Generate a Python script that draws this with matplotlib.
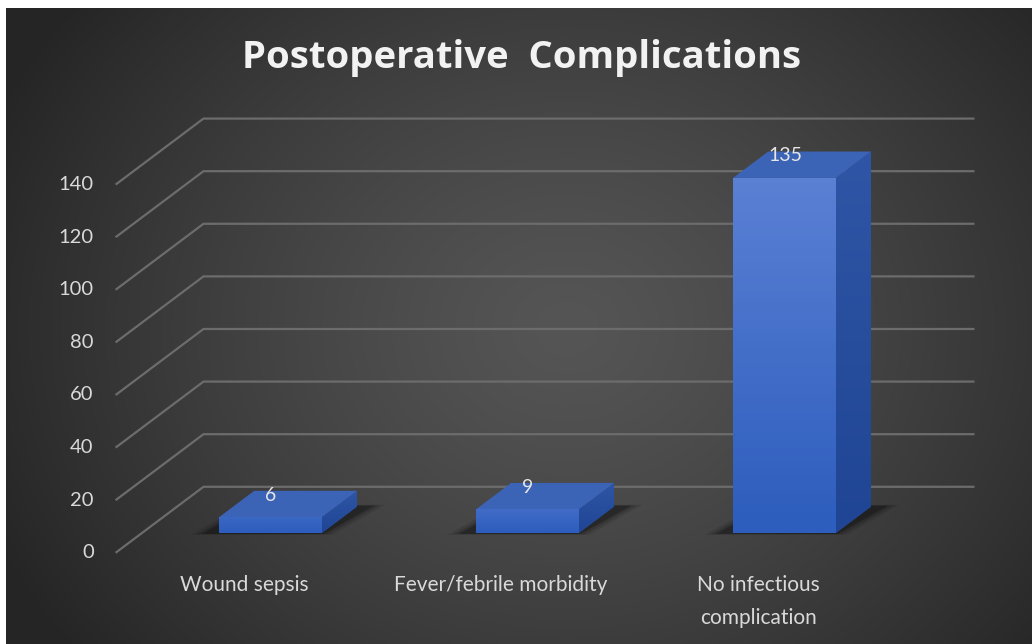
import numpy as np
import matplotlib
matplotlib.use('Agg')
import matplotlib.pyplot as plt
from matplotlib.patches import Polygon
from matplotlib.colors import LinearSegmentedColormap

# data
categories = ['Wound sepsis', 'Fever/febrile morbidity', 'No infectious\ncomplication']
values = [6, 9, 135]
yticks = [0, 20, 40, 60, 80, 100, 120, 140]
title = 'Postoperative  Complications'

# fake 3d: depth t in [0, 1], offset per full depth in data units
DX = 0.342
DY = 25.1
T0, T1 = 0.3, 0.7     # bar front / back plane
HW = 0.2              # half bar width
XL, XR = -0.5, 2.5    # floor extent


def proj(x, v, t):
    return x + t * DX, v + t * DY


plt.rcParams['font.family'] = ['Lato', 'DejaVu Sans']

fig = plt.figure(figsize=(10.32, 6.44), dpi=100, facecolor='white')

# background with radial gradient
bg = fig.add_axes([6 / 1032, 0, 1 - 6 / 1032, 1 - 8 / 644])
bg.set_axis_off()
h, w = 636, 1026
yy, xx = np.mgrid[0:h, 0:w]
r = np.sqrt(((xx - 560) / 620.) ** 2 + ((yy - 320) / 520.) ** 2)
r = np.clip(r, 0, 1)
shade = 0x55 / 255. - (0x55 - 0x26) / 255. * r ** 1.3
bg.imshow(np.dstack([shade] * 3), aspect='auto', interpolation='bilinear')

ax = fig.add_axes([0, 0, 1, 1])
ax.patch.set_alpha(0)
ax.set_axis_off()
x0px, y0px = 244.1, 552.8
sx, sy = 257., 2.63
xlim = (-x0px / sx, (1032 - x0px) / sx)
ylim = (-(644 - y0px) / sy, y0px / sy)

# gridlines: diagonal on the side wall plus back wall line
gcol = '#6c6c6c'
for v in yticks:
    xa, ya = proj(XL, v, 0)
    xb, yb = proj(XL, v, 1)
    xc, yc = proj(XR, v, 1)
    ax.plot([xa, xb, xc], [ya, yb, yc], color=gcol, lw=1.6, zorder=1,
            solid_capstyle='butt')
    ax.text(xa - 0.085, ya, str(v), ha='right', va='center', color='#d9d9d9',
            fontsize=14.5)

front_cmap = LinearSegmentedColormap.from_list('front', ['#2d5dbd', '#5a80d4'])
side_cmap = LinearSegmentedColormap.from_list('side', ['#1f4594', '#2f55a6'])

for i, val in enumerate(values):
    # soft shadow on the floor
    for k, a in [(0.05, 0.10), (0.03, 0.15), (0.012, 0.25)]:
        pts = [proj(i - HW - 0.05 - k, 0, T0 - 0.01 - k / 3),
               proj(i + HW + k, 0, T0 - 0.01 - k / 3),
               proj(i + HW + 0.05 + k, 0, T1 + 0.01 + k / 3),
               proj(i - HW - k, 0, T1 + 0.01 + k / 3)]
        ax.add_patch(Polygon(pts, closed=True, fc='black', ec='none',
                             alpha=a, zorder=2))

    # side face
    side = [proj(i + HW, 0, T0), proj(i + HW, 0, T1),
            proj(i + HW, val, T1), proj(i + HW, val, T0)]
    sp = Polygon(side, closed=True, fc='#274d9e', ec='none', zorder=3)
    ax.add_patch(sp)
    xs = [p[0] for p in side]
    ys = [p[1] for p in side]
    im = ax.imshow(np.linspace(1, 0, 50).reshape(-1, 1), cmap=side_cmap,
                   extent=(min(xs), max(xs), min(ys), max(ys)), aspect='auto',
                   zorder=3)
    im.set_clip_path(sp)

    # top face
    top = [proj(i - HW, val, T0), proj(i + HW, val, T0),
           proj(i + HW, val, T1), proj(i - HW, val, T1)]
    ax.add_patch(Polygon(top, closed=True, fc='#3c64b6', ec='none', zorder=4))

    # front face
    fx, fy = proj(i - HW, 0, T0)
    bars = ax.bar(fx + HW, val, width=2 * HW, bottom=fy, color='#3f6dcb',
                  zorder=4, edgecolor='none')
    im = ax.imshow(np.linspace(1, 0, 50).reshape(-1, 1), cmap=front_cmap,
                   extent=(fx, fx + 2 * HW, fy, fy + max(val, 20)),
                   aspect='auto', zorder=5)
    im.set_clip_path(bars[0])

    # value label
    lx, ly = proj(i, val, 0.5)
    ax.annotate(str(val), (lx, ly), xytext=(-17, 9), textcoords='offset pixels',
                ha='center', va='center', color='#e6e6e6', fontsize=14,
                zorder=6)

    # category label
    ax.text(i, -8.6, categories[i], ha='center', va='top',
            color='#d9d9d9', fontsize=15, linespacing=1.8, zorder=6)

ax.set_xlim(*xlim)
ax.set_ylim(*ylim)

fig.text(522 / 1032, 1 - 58 / 644, title, ha='center', va='center',
         color='#f2f2f2', fontsize=27.5, fontweight='bold', family='Open Sans')

fig.savefig('out.png', dpi=100, facecolor='white')
